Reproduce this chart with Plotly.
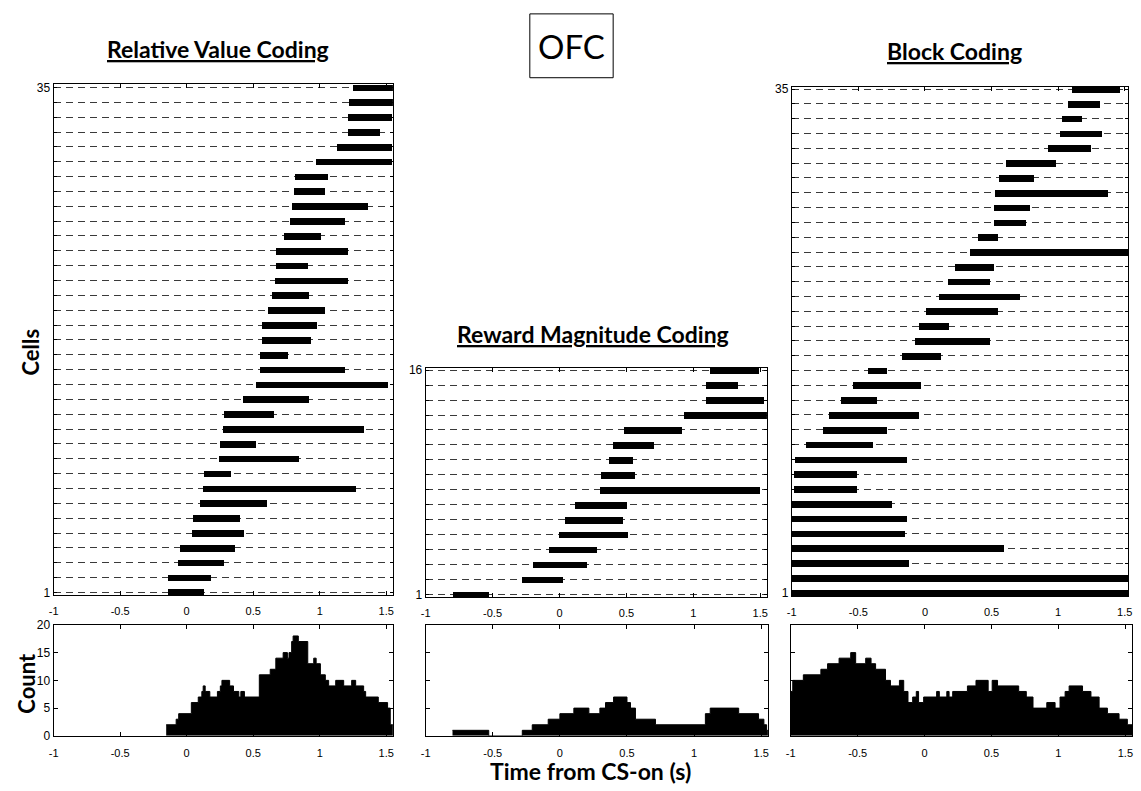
import plotly.graph_objects as go

# ---------------- data ----------------
# Relative Value Coding (rows 1..35, bottom to top): window start / end (s)
rv_rows = list(range(1, 36))
rv_start = [-0.14, -0.14, -0.07, -0.05, 0.04, 0.045, 0.10, 0.12, 0.13, 0.24,
            0.25, 0.27, 0.28, 0.42, 0.52, 0.55, 0.55, 0.56, 0.56, 0.61,
            0.64, 0.66, 0.67, 0.67, 0.73, 0.77, 0.79, 0.80, 0.81, 0.97,
            1.13, 1.21, 1.21, 1.22, 1.25]
rv_end = [0.13, 0.18, 0.28, 0.36, 0.43, 0.40, 0.60, 1.27, 0.33, 0.84,
          0.52, 1.33, 0.65, 0.92, 1.51, 1.19, 0.76, 0.93, 0.98, 1.04,
          0.92, 1.21, 0.91, 1.21, 1.01, 1.19, 1.36, 1.04, 1.06, 1.54,
          1.54, 1.45, 1.54, 1.55, 1.55]

# Reward Magnitude Coding (rows 1..16)
rm_rows = list(range(1, 17))
rm_start = [-0.80, -0.28, -0.20, -0.08, -0.005, 0.04, 0.11, 0.30, 0.31, 0.37,
            0.40, 0.48, 0.93, 1.09, 1.095, 1.12]
rm_end = [-0.53, 0.02, 0.205, 0.28, 0.51, 0.47, 0.50, 1.495, 0.56, 0.55,
          0.70, 0.91, 1.55, 1.525, 1.33, 1.49]

# Block Coding (rows 1..35)
bc_rows = list(range(1, 36))
bc_start = [-1.0, -1.0, -1.0, -1.0, -1.0, -1.0, -1.0, -0.985, -0.985, -0.98,
            -0.895, -0.77, -0.72, -0.63, -0.54, -0.43, -0.175, -0.08, -0.05, 0.005,
            0.10, 0.17, 0.22, 0.335, 0.40, 0.52, 0.52, 0.525, 0.555, 0.61,
            0.925, 1.01, 1.03, 1.07, 1.10]
bc_end = [1.55, 1.55, -0.12, 0.59, -0.15, -0.135, -0.25, -0.51, -0.51, -0.14,
          -0.39, -0.29, -0.045, -0.36, -0.03, -0.29, 0.12, 0.49, 0.18, 0.55,
          0.71, 0.485, 0.52, 1.525, 0.55, 0.76, 0.79, 1.37, 0.815, 0.98,
          1.245, 1.33, 1.18, 1.31, 1.46]

# Count histograms: step edges (s) and counts between them
rv_hist_edges = [-0.154, -0.079, -0.06, 0.035, 0.087, 0.114, 0.124, 0.139, 0.174, 0.231,
                 0.253, 0.265, 0.323, 0.352, 0.392, 0.407, 0.434, 0.546, 0.628, 0.67,
                 0.725, 0.757, 0.769, 0.789, 0.80, 0.839, 0.91, 0.955, 0.973, 1.005,
                 1.042, 1.067, 1.12, 1.18, 1.24, 1.27, 1.33, 1.345, 1.44, 1.51,
                 1.53, 1.55]
rv_hist_counts = [2, 3, 4, 6, 7, 8, 9, 8, 7, 8,
                  9, 10, 9, 8, 7, 8, 7, 11, 12, 14,
                  15, 14, 15, 17, 18, 17, 13, 14, 13, 11,
                  10, 9, 10, 9, 10, 9, 8, 7, 6, 5,
                  2]

rm_hist_edges = [-0.80, -0.53, -0.28, -0.206, -0.087, 0.0, 0.104, 0.216, 0.298, 0.34,
                 0.40, 0.50, 0.526, 0.563, 0.712, 1.084, 1.12, 1.332, 1.48, 1.52,
                 1.54, 1.55]
rm_hist_counts = [1, 0, 1, 2, 3, 4, 5, 4, 5, 6,
                  7, 6, 5, 3, 2, 4, 5, 4, 3, 2,
                  1]

bc_hist_edges = [-1.0, -0.985, -0.906, -0.775, -0.725, -0.639, -0.552, -0.515, -0.44, -0.40,
                 -0.366, -0.292, -0.255, -0.188, -0.156, -0.124, -0.089, -0.062, -0.045, -0.007,
                 0.09, 0.11, 0.166, 0.183, 0.21, 0.32, 0.384, 0.475, 0.505, 0.545,
                 0.703, 0.76, 0.81, 0.913, 0.975, 1.012, 1.05, 1.08, 1.18, 1.243,
                 1.304, 1.366, 1.453, 1.515, 1.55]
bc_hist_counts = [8, 10, 11, 12, 13, 14, 15, 13, 14, 13,
                  12, 10, 9, 10, 8, 6, 7, 8, 6, 7,
                  8, 7, 8, 7, 8, 9, 10, 8, 10, 9,
                  8, 7, 5, 6, 5, 7, 8, 9, 8, 7,
                  5, 4, 3, 2]

x_ticks = [-1, -0.5, 0, 0.5, 1, 1.5]
x_tick_text = ["-1", "-0.5", "0", "0.5", "1", "1.5"]
count_ticks = [0, 5, 10, 15, 20]

titles = ["Relative Value Coding", "Reward Magnitude Coding", "Block Coding"]

# ---------------- geometry helpers (pixel -> paper) ----------------
W, H = 1141, 791


def fx(px):
    return px / W


def fy(py):
    return 1 - py / H


TICKFONT = dict(family="Liberation Sans, Arial, sans-serif", size=11, color="black")
LABFONT = "Lato, Open Sans, sans-serif"

fig = go.Figure()

# rows, starts, ends, x-domain px, y-domain px, y-range, top label, x-range max
panels = [
    (rv_rows, rv_start, rv_end, [49, 391], [78, 599], [0.80, 35.26], 35, 1.55),
    (rm_rows, rm_start, rm_end, [424, 768], [367, 601], [0.80, 16.18], 16, 1.55),
    (bc_rows, bc_start, bc_end, [793, 1132], [81, 600], [0.755, 35.17], 35, 1.525),
]
hists = [
    (rv_hist_edges, rv_hist_counts, True, [49, 391]),
    (rm_hist_edges, rm_hist_counts, False, [424, 769]),
    (bc_hist_edges, bc_hist_counts, False, [792, 1136]),
]

layout = dict(
    width=W, height=H, margin=dict(l=0, r=0, t=0, b=0),
    paper_bgcolor="white", plot_bgcolor="white", showlegend=False,
    bargap=0,
)

ax = 0
for i, (rows, st, en, xd, yd, yr, ntop, xmax) in enumerate(panels):
    ax += 1
    sx = "" if ax == 1 else str(ax)
    fig.add_trace(go.Bar(
        orientation="h", y=rows, base=st, x=[e - s for s, e in zip(st, en)],
        width=0.45, marker=dict(color="black", line=dict(width=0)),
        cliponaxis=False,
        xaxis="x" + sx, yaxis="y" + sx, hoverinfo="skip"))
    layout["xaxis" + sx] = dict(
        domain=[fx(xd[0]), fx(xd[1])], anchor="y" + sx, range=[-1, xmax],
        tickvals=x_ticks, ticktext=x_tick_text, ticks="inside", ticklen=4,
        tickcolor="black", showline=True, linecolor="black", linewidth=1,
        mirror="allticks", showgrid=False, zeroline=False, tickfont=TICKFONT,
        ticklabelstandoff=5, fixedrange=True)
    ytext = ["1"] + [""] * (ntop - 2) + [str(ntop)]
    layout["yaxis" + sx] = dict(
        domain=[fy(yd[1]), fy(yd[0])], anchor="x" + sx, range=yr,
        tickvals=rows, ticktext=ytext, ticks="inside", ticklen=3,
        tickcolor="black", showline=True, linecolor="black", linewidth=1,
        mirror="allticks", showgrid=True, gridcolor="#3a3a3a", gridwidth=1,
        griddash="7px,5px", zeroline=False,
        tickfont=dict(family="Liberation Sans, Arial, sans-serif", size=12, color="black"),
        fixedrange=True)

for i, (edges, counts, show_lab, xd) in enumerate(hists):
    ax += 1
    sx = str(ax)
    fig.add_trace(go.Scatter(
        x=edges, y=counts + [counts[-1]], mode="lines", line_shape="hv",
        line=dict(color="black", width=1), fill="tozeroy", fillcolor="black",
        xaxis="x" + sx, yaxis="y" + sx, hoverinfo="skip"))
    layout["xaxis" + sx] = dict(
        domain=[fx(xd[0]), fx(xd[1])], anchor="y" + sx, range=[-1, 1.55],
        tickvals=x_ticks, ticktext=x_tick_text, ticks="inside", ticklen=4,
        tickcolor="black", showline=True, linecolor="black", linewidth=1,
        mirror="allticks", showgrid=False, zeroline=False, tickfont=TICKFONT,
        ticklabelstandoff=7, fixedrange=True)
    layout["yaxis" + sx] = dict(
        domain=[fy(742), fy(629)], anchor="x" + sx, range=[0, 20],
        tickvals=count_ticks, ticks="inside", ticklen=4, tickcolor="black",
        showticklabels=show_lab, showline=True, linecolor="black", linewidth=1,
        mirror="allticks", showgrid=False, zeroline=False,
        tickfont=dict(family="Liberation Sans, Arial, sans-serif", size=12, color="black"),
        fixedrange=True)

fig.update_layout(**layout)

# ---------------- text ----------------
title_pos = [(215, 43), (593, 333), (957, 45)]
for t, (px, py) in zip(titles, title_pos):
    fig.add_annotation(text="<b><u>" + t + "</u></b>", x=fx(px), y=fy(py),
                       xref="paper", yref="paper", showarrow=False,
                       xanchor="center", yanchor="middle",
                       font=dict(family=LABFONT, size=23, color="black"))

fig.add_annotation(text="OFC", x=fx(571), y=fy(40), xref="paper", yref="paper",
                   showarrow=False, xanchor="center", yanchor="middle",
                   font=dict(family=LABFONT, size=33, color="black"))
fig.add_shape(type="rect", xref="paper", yref="paper",
              x0=fx(529), x1=fx(613), y0=fy(72), y1=fy(7),
              line=dict(color="black", width=1))

fig.add_annotation(text="<b>Cells</b>", x=fx(26), y=fy(351), xref="paper", yref="paper",
                   showarrow=False, textangle=-90, xanchor="center", yanchor="middle",
                   font=dict(family=LABFONT, size=22, color="black"))
fig.add_annotation(text="<b>Count</b>", x=fx(22), y=fy(688), xref="paper", yref="paper",
                   showarrow=False, textangle=-90, xanchor="center", yanchor="middle",
                   font=dict(family=LABFONT, size=22, color="black"))
fig.add_annotation(text="<b>Time from CS-on (s)</b>", x=fx(590), y=fy(778),
                   xref="paper", yref="paper", showarrow=False,
                   xanchor="center", yanchor="middle",
                   font=dict(family=LABFONT, size=23, color="black"))

fig.write_html("out.html", config={"displayModeBar": False},
               post_script="document.body.style.margin='0';document.body.style.overflow='hidden';")
